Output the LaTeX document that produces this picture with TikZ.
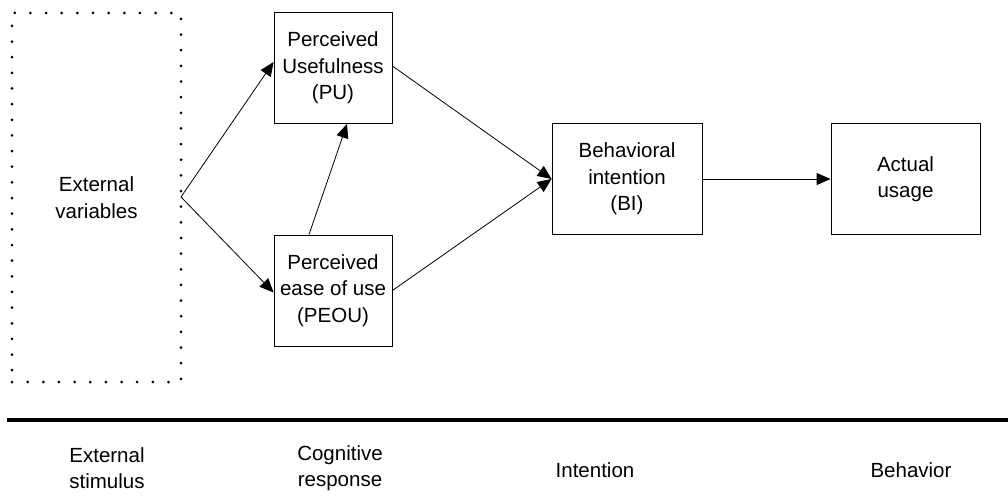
\documentclass[tikz,border=0pt]{standalone}
\usepackage{fontspec}
\setmainfont{Liberation Sans}
\usetikzlibrary{arrows.meta}
\begin{document}
\begin{tikzpicture}[x=1pt,y=-1pt,
  every node/.style={font=\fontsize{20.5}{26.5}\selectfont, align=center, inner sep=0pt},
  boxnode/.style={draw, line width=0.8pt, minimum width=#1, minimum height=111pt},
  boxnode/.default=118pt,
  arr/.style={line width=0.8pt, -{Triangle[length=14pt,width=12pt]}},
  lbl/.style={}]
\useasboundingbox (0,0) rectangle (1008,497);
\node[draw, line width=3pt, dash pattern=on 0pt off 15.65pt, line cap=round,
      minimum width=169pt, minimum height=369pt] (ext) at (96.5,197.5) {External\\variables};
\node[boxnode] (pu) at (333,68) {Perceived\\Usefulness\\(PU)};
\node[boxnode] (peou) at (333,290.5) {Perceived\\ease of use\\(PEOU)};
\node[boxnode=150pt] (bi) at (627,179) {Behavioral\\intention\\(BI)};
\node[boxnode=149pt] (au) at (905.5,179) {Actual\\usage};
\coordinate (apex) at (181,197);
\draw[arr] (apex) -- ([yshift=6pt]pu.west);
\draw[arr] (apex) -- ([yshift=-2pt]peou.west);
\draw[arr] ([xshift=-24pt]peou.north) -- ([xshift=14pt]pu.south);
\draw[arr] ([yshift=2pt]pu.east) -- (bi.west);
\draw[arr] (peou.east) -- (bi.west);
\draw[arr] (bi.east) -- (au.west);
\coordinate (la) at (7,420);
\coordinate (lb) at (1008,420);
\draw[line width=3.2pt] (la) -- (lb);
\node[lbl] (l1) at (107,468) {External\\stimulus};
\node[lbl] (l2) at (340,468) {Cognitive\\response};
\node[lbl] (l3) at (595,470) {Intention};
\node[lbl] (l4) at (911,470) {Behavior};
\end{tikzpicture}
\end{document}
